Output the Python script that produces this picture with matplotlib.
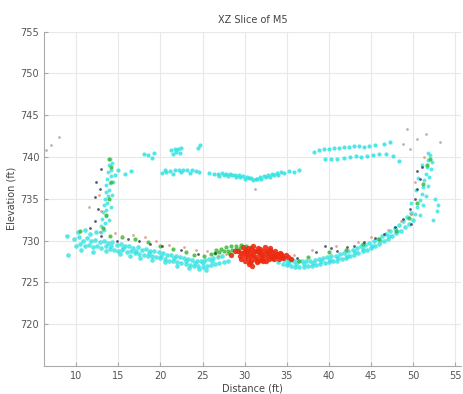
import numpy as np
from matplotlib import pyplot as plt

# point clouds, (distance, elevation) pairs
cyan_floor = [
    (10.0,729.4),(10.5,729.6),(11.0,729.3),(11.5,729.5),(12.0,729.2),(12.5,729.4),(13.0,729.1),(13.5,729.3),
    (14.0,729.0),(14.5,728.9),(15.0,728.8),(15.5,728.9),(16.0,728.6),(16.5,728.7),(17.0,728.5),(17.5,728.4),
    (18.0,728.3),(18.5,728.2),(19.0,728.1),(19.5,728.0),(20.0,727.9),(20.5,727.8),(21.0,727.6),(21.5,727.5),
    (22.0,727.4),(22.5,727.3),(23.0,727.2),(23.5,727.1),(24.0,727.0),(24.5,727.0),(25.0,726.9),(25.5,727.0),
    (26.0,727.1),(26.5,727.2),(27.0,727.3),(27.5,727.4),(28.0,727.5),
    (34.0,727.4),(34.5,727.2),(35.0,727.1),(35.5,727.0),(36.0,726.9),(36.5,726.9),(37.0,726.9),(37.5,727.0),
    (38.0,727.0),(38.5,727.1),(39.0,727.2),(39.5,727.3),(40.0,727.4),(40.5,727.5),(41.0,727.6),(41.5,727.8),
    (42.0,727.9),(42.5,728.1),(43.0,728.3),(43.5,728.5),(44.0,728.7),(44.5,728.9),(45.0,729.1),(45.5,729.4),
    (46.0,729.6),(46.5,729.9),(47.0,730.2),(47.5,730.5),(48.0,730.9),(48.5,731.2),(49.0,731.6),(49.5,732.0),
    (50.0,732.5),
    (9.8,730.2),(10.3,730.4),(10.8,729.9),(11.3,730.3),(11.8,729.9),(12.3,730.1),(12.8,729.8),(13.3,730.0),
    (13.8,729.7),(14.3,729.8),(14.8,729.5),(15.3,729.6),(15.8,729.3),(16.3,729.4),(16.8,729.1),(17.3,729.2),
    (17.8,728.9),(18.3,729.0),(18.8,728.8),(19.3,728.7),(19.8,728.6),(20.3,728.5),(20.8,728.3),(21.3,728.3),
    (21.8,728.1),(22.3,728.0),(22.8,727.9),(23.3,727.8),(23.8,727.7),(24.3,727.6),(24.8,727.6),(25.3,727.7),
    (25.8,727.8),(26.3,727.9),(26.8,728.0),(27.3,728.1),(34.3,727.9),(34.8,727.7),(35.3,727.6),(35.8,727.5),
    (36.3,727.5),(36.8,727.5),(37.3,727.6),(37.8,727.6),(38.3,727.7),(38.8,727.8),(39.3,727.9),(39.8,728.0),
    (40.3,728.1),(40.8,728.2),(41.3,728.4),(41.8,728.5),(42.3,728.7),(42.8,728.9),(43.3,729.1),(43.8,729.3),
    (44.3,729.5),(44.8,729.7),(45.3,730.0),(45.8,730.2),(46.3,730.5),(46.8,730.8),(47.3,731.1),(47.8,731.5),
    (48.3,731.9),(48.8,732.3),(49.3,732.8),(49.8,733.3),
    (10.2,731.0),(11.0,731.3),(11.6,730.8),(12.4,731.0),(9.0,728.3),(10.6,728.9),(12.0,728.6),(13.6,728.7),
    (15.2,728.4),(16.4,728.2),(17.6,727.9),(19.0,727.7),(20.6,727.4),(22.0,727.0),(23.4,726.7),(24.6,726.6),
    (25.4,726.5),(8.9,730.6),
    (14.1,729.4),(15.6,729.1),(17.1,728.8),(18.6,728.5),(20.1,728.2),(21.6,727.9),(23.1,727.5),(24.1,727.3),
    (25.1,727.3),(26.1,727.5),(35.1,727.3),(36.1,727.2),(37.1,727.2),(38.1,727.3),(39.1,727.5),(40.1,727.7),
    (41.1,727.9),(42.1,728.2),(43.1,728.6),(44.1,729.0),(45.1,729.4),(46.1,729.9),(47.1,730.5),(48.1,731.2),
]

cyan_walls = [
    (50.2,733.2),(50.5,734.0),(50.8,734.8),(51.0,735.6),(51.2,736.4),(51.3,737.2),(51.5,738.0),(51.6,738.8),
    (51.8,739.6),(52.0,740.2),(51.7,740.5),(50.8,733.0),(51.2,734.2),(51.5,735.3),(51.7,736.5),(51.9,737.6),
    (52.1,738.6),(52.2,739.4),(49.8,734.5),(50.3,736.0),(50.6,737.5),(51.0,739.0),(52.6,735.0),(52.8,733.5),
    (53.0,734.2),(52.4,732.5),
    (14.0,739.8),(13.9,739.0),(13.8,738.2),(13.7,737.4),(13.6,736.6),(13.5,735.8),(13.4,735.0),(13.3,734.2),
    (13.2,733.4),(13.1,732.6),(13.0,731.8),(12.9,731.0),(14.3,739.3),(14.2,738.5),(14.1,737.7),(14.0,736.9),
    (13.9,736.1),(13.8,735.3),(13.7,734.5),(13.6,733.7),(13.5,732.9),(13.4,732.1),(13.3,731.3),(14.4,737.0),
    (14.3,735.5),(14.1,734.0),(13.9,732.5),
]

cyan_upper = [
    (15.0,738.4),(15.8,738.0),(16.5,738.3),(14.6,737.8),
    (18.0,740.4),(18.5,740.2),(19.3,740.5),(19.0,739.9),
    (21.3,740.8),(21.7,741.0),(22.1,740.9),(22.5,741.1),(21.9,740.6),(22.3,740.5),(21.5,740.4),
    (24.7,741.4),(24.5,741.1),
    (20.2,738.1),(20.7,738.2),(21.2,738.3),(21.7,738.4),(22.2,738.4),(22.7,738.5),(23.2,738.4),(23.7,738.4),
    (24.2,738.3),(20.5,738.4),(21.5,738.0),(22.5,738.2),(23.5,738.1),(24.6,738.2),(25.8,738.1),(26.4,738.0),
    (26.8,738.0),(27.3,738.1),(27.8,738.0),(28.3,738.0),(28.8,737.9),(29.3,737.8),(29.8,737.7),(30.3,737.6),
    (30.8,737.5),(31.3,737.4),(31.8,737.6),(32.3,737.7),(32.8,737.9),(33.3,738.0),(33.8,738.1),(34.3,738.2),
    (34.7,738.1),(27.0,737.7),(28.0,737.7),(29.0,737.6),(30.0,737.4),(31.0,737.2),(32.0,737.4),(33.0,737.6),
    (34.0,737.8),(27.5,737.9),(28.5,737.8),(29.5,737.6),(30.5,737.5),(31.5,737.4),(32.5,737.6),(33.5,737.8),
    (35.3,738.3),(35.8,738.2),(36.5,738.5),
    (38.2,740.6),(38.8,740.8),(39.4,740.9),(40.0,741.0),(40.6,741.1),(41.2,741.1),(41.8,741.2),(42.4,741.2),
    (43.0,741.3),(43.6,741.3),(44.2,741.2),(44.8,741.3),(45.5,741.4),(46.5,741.6),(47.3,741.8),
    (39.5,739.7),(40.3,739.8),(41.0,739.8),(41.8,739.9),(42.5,740.0),(43.2,740.1),(43.8,740.0),(44.5,740.1),
    (45.2,740.2),(46.0,740.3),(46.8,740.4),(47.6,740.1),(48.3,739.5),
]

grey_pts = [
    (49.3,743.3),(50.5,742.2),(51.5,742.7),(53.2,741.8),(48.8,741.5),(49.6,740.9),
    (7.0,741.4),(8.0,742.4),(6.4,740.8),(31.2,736.2),
]

green_pts = [
    (26.0,728.4),(26.5,728.5),(27.0,728.6),(27.5,728.7),(28.0,728.8),(28.5,728.9),(29.0,729.0),(29.5,729.1),
    (30.0,729.0),(27.2,729.0),(27.8,729.2),(28.4,729.3),(29.0,729.4),(29.6,729.5),(30.2,729.4),(30.8,729.2),
    (26.6,728.9),(28.2,728.5),(29.2,728.7),(30.4,728.7),(31.5,728.6),(32.2,728.4),(33.5,728.2),(34.5,727.9),
    (35.5,727.8),(36.5,727.6),(25.2,728.2),(24.0,728.3),(23.0,728.6),(21.5,729.0),(20.0,729.4),(18.5,729.8),
    (17.0,730.2),(15.5,730.4),(14.0,730.6),(13.2,731.5),(13.6,733.0),(13.9,735.0),(14.1,737.0),(14.2,738.8),
    (13.9,739.8),(37.5,728.0),(40.0,728.6),(42.0,728.9),(44.0,729.6),(46.0,730.2),(48.0,731.2),(49.5,732.7),
    (50.5,734.5),(51.2,736.8),(51.6,739.0),(52.0,739.8),(10.5,731.2),
]

red_pts = [
    (29.2,728.8),(29.6,728.5),(30.0,728.2),(30.4,727.9),(30.6,728.5),(30.8,729.0),(31.0,728.3),(31.2,727.8),
    (31.4,728.7),(31.6,729.1),(31.8,728.4),(32.0,727.9),(32.2,728.8),(32.4,729.2),(32.6,728.5),(32.8,728.1),
    (33.0,728.9),(33.2,728.6),(33.4,728.2),(33.6,728.7),(33.8,728.4),(34.0,728.1),(34.2,728.5),(34.4,728.2),
    (34.6,727.9),(34.9,728.3),(35.2,728.0),(35.5,727.8),(30.2,728.8),(30.8,727.6),(31.5,727.4),(32.5,727.6),
    (33.5,727.8),(31.0,729.3),(29.8,729.2),(28.8,728.7),(28.4,728.3),(29.4,728.1),(30.5,727.2),(30.9,727.0),
    (29.9,728.6),(30.3,728.4),(30.7,728.1),(31.1,728.8),(31.3,728.0),(31.7,728.6),(31.9,727.7),(32.1,728.3),
    (32.3,728.0),(32.7,728.8),(32.9,727.8),(33.1,728.3),(33.3,727.9),(33.7,728.1),(34.1,727.8),(34.3,728.4),
    (29.6,727.8),(30.1,727.6),(30.6,727.4),(31.6,727.6),(32.2,727.5),(30.4,729.1),(31.8,729.0),(33.0,729.1),
]

dark_pts = [
    (12.4,737.0),(12.2,735.2),(12.6,733.8),(12.3,732.4),(13.0,738.6),(12.8,736.2),(11.6,731.5),(12.9,730.5),
    (14.8,729.9),(16.2,730.2),(17.5,730.0),(18.8,729.6),(20.2,729.3),(22.5,728.9),(24.5,728.4),(26.5,728.5),
    (36.2,727.9),(38.5,728.6),(39.5,729.3),(40.3,729.1),(41.0,728.8),(42.2,729.2),(43.0,729.4),(44.2,729.8),
    (45.5,730.3),(46.5,730.8),(47.8,731.6),(48.8,732.6),(49.6,733.8),(50.2,735.0),(50.5,736.2),(50.8,737.4),
    (50.4,738.3),(51.0,738.8),(49.8,732.0),
]

orange_pts = [
    (12.8,731.0),(13.0,733.5),(12.7,735.5),(15.5,730.6),(16.8,730.7),(18.2,730.4),(19.5,729.9),(21.0,729.5),
    (22.8,729.2),(24.2,728.9),(25.5,728.7),(26.8,728.2),(27.8,728.4),(35.8,728.3),(38.0,728.9),(40.8,729.3),
    (43.5,729.8),(45.0,730.4),(47.0,731.3),(48.5,732.4),(49.8,733.2),(50.2,737.0),(51.3,740.0),(11.5,734.0),
    (14.6,730.9),
]

x_ticks = [10, 15, 20, 25, 30, 35, 40, 45, 50, 55]
y_ticks = [720, 725, 730, 735, 740, 745, 750, 755]


def draw(ax, pts, color, size, alpha):
    arr = np.array(pts)
    ax.scatter(arr[:, 0], arr[:, 1], s=size, c=color, alpha=alpha, linewidths=0, marker='o')


fig = plt.figure(figsize=(4.64, 3.94), dpi=100, facecolor='white')
ax = fig.add_axes([0.095, 0.071, 0.899, 0.849])

draw(ax, cyan_floor, '#30e2e2', 11, 0.8)
draw(ax, cyan_walls, '#30e2e2', 8, 0.8)
draw(ax, cyan_upper, '#30e2e2', 9, 0.85)
draw(ax, grey_pts, '#9aa8a8', 4, 0.8)
draw(ax, green_pts, '#3cbb3c', 9, 0.85)
draw(ax, red_pts, '#ee2a10', 15, 0.9)
draw(ax, dark_pts, '#2a3550', 4, 0.8)
draw(ax, orange_pts, '#e0906a', 4, 0.8)

ax.set_xlim(6.2, 55.7)
ax.set_ylim(715, 755)
ax.set_xticks(x_ticks)
ax.set_yticks(y_ticks)
ax.grid(True, color='#e8e8e8', linewidth=0.8)
ax.set_axisbelow(True)
for side in ['top', 'right']:
    ax.spines[side].set_visible(False)
for side in ['left', 'bottom']:
    ax.spines[side].set_color('#aaaaaa')
ax.tick_params(direction='in', length=3, colors='#aaaaaa', labelcolor='#555555', labelsize=7)

ax.set_title('XZ Slice of M5', fontsize=7, color='#444444', pad=6)
ax.set_xlabel('Distance (ft)', fontsize=7, color='#444444', labelpad=2)
ax.set_ylabel('Elevation (ft)', fontsize=7, color='#444444', labelpad=3)

fig.savefig('out.png', dpi=100)
plt.close()
